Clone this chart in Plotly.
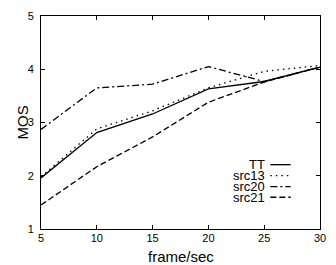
import plotly.graph_objects as go

fps = [5, 10, 15, 20, 25, 30]
tt = [1.96, 2.81, 3.16, 3.63, 3.77, 4.04]
src13 = [1.98, 2.88, 3.22, 3.65, 3.96, 4.07]
src20 = [2.87, 3.65, 3.72, 4.05, 3.77, 4.04]
src21 = [1.45, 2.17, 2.73, 3.38, 3.76, 4.04]

names = ["TT", "src13", "src20", "src21"]
dashes = ["solid", "1.5px,4px", "7px,3px,2px,3px", "6px,3px"]
series = [tt, src13, src20, src21]

FONT = "Liberation Sans, Arial"

fig = go.Figure()
for n, d, s in zip(names, dashes, series):
    fig.add_trace(go.Scatter(x=fps, y=s, mode="lines", name=n,
                             line=dict(color="black", width=1.3, dash=d),
                             showlegend=False))

# manual legend (text to the left of the sample, gnuplot style)
leg_y = [0.302, 0.251, 0.199, 0.149]
for n, d, yy in zip(names, dashes, leg_y):
    fig.add_annotation(x=0.807, y=yy, xref="paper", yref="paper", text=n,
                       showarrow=False, xanchor="right", yanchor="middle",
                       height=11, borderpad=0,
                       font=dict(family=FONT, size=13, color="black"))
    fig.add_shape(type="line", xref="paper", yref="paper", x0=0.822, x1=0.895,
                  y0=yy, y1=yy, line=dict(color="black", width=1.3, dash=d))

# axis titles
fig.add_annotation(x=0.5, y=-0.08, xref="paper", yref="paper", text="frame/sec",
                   showarrow=False, xanchor="center", yanchor="top",
                   font=dict(family=FONT, size=15, color="black"))
fig.add_annotation(x=-0.068, y=0.5, xref="paper", yref="paper", text="MOS",
                   showarrow=False, xanchor="center", yanchor="middle", textangle=-90,
                   font=dict(family=FONT, size=15, color="black"))

axis_common = dict(showline=True, linecolor="black", linewidth=1, mirror="allticks",
                   ticks="inside", ticklen=4, tickcolor="black", showgrid=False,
                   zeroline=False, ticklabeloverflow="allow",
                   tickfont=dict(family=FONT, size=11, color="black"))

fig.update_xaxes(range=[5, 30], tickvals=[5, 10, 15, 20, 25, 30],
                 ticklabelstandoff=-1, **axis_common)
fig.update_yaxes(range=[1, 5], tickvals=[1, 2, 3, 4, 5],
                 ticklabelstandoff=4, **axis_common)

fig.update_layout(width=336, height=265, margin=dict(l=41, r=10, t=10, b=36),
                  paper_bgcolor="white", plot_bgcolor="white")

fig.write_html("out.html", config={"displayModeBar": False},
               post_script="document.body.style.margin='0';document.body.style.overflow='hidden';")
